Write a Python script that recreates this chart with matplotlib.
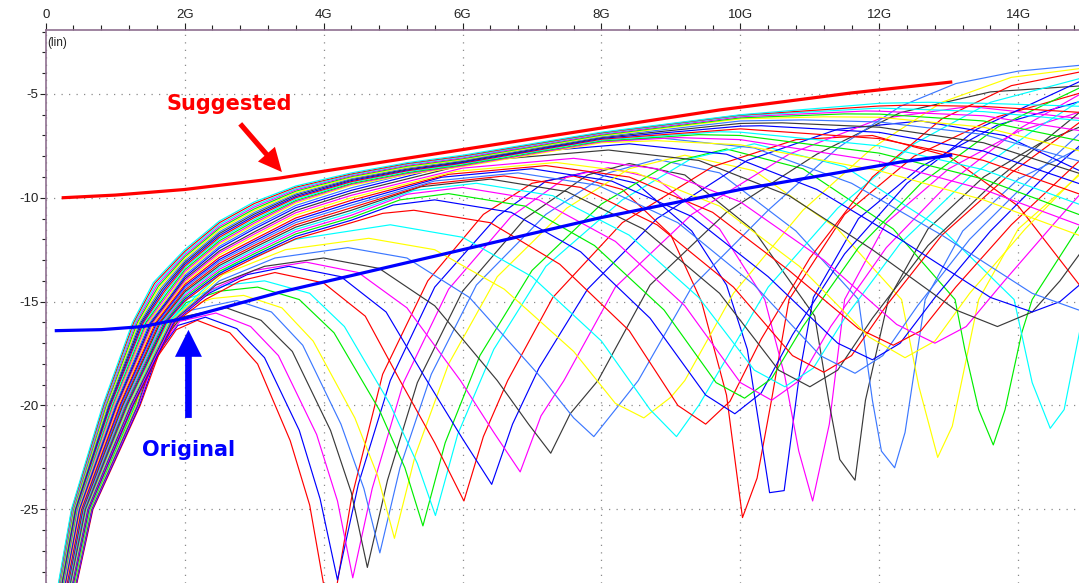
import matplotlib
matplotlib.use("Agg")
import matplotlib.pyplot as plt
from matplotlib.patches import FancyArrowPatch, ArrowStyle
from matplotlib.ticker import MultipleLocator

plt.rcParams["axes.unicode_minus"] = False

RED = "#ff0000"
BLUE = "#0000ff"
MAGENTA = "#ff00ff"
BLACK = "#3a3a3a"
LIGHTBLUE = "#3c78ff"
YELLOW = "#ffff00"
GREEN = "#00ee00"
CYAN = "#00ffff"

# sweep members, (GHz, dB) points; first null below 6 GHz, second null in range
early_curves = [
    [(0.42, -29), (0.68, -25), (1.36, -20), (1.62, -17.6), (1.88, -16.35), (2.18, -15.9),
     (2.65, -16.5), (3.05, -18.0), (3.52, -21.7), (3.8, -24.8), (4.1, -30.5),
     (4.4, -24.5), (4.85, -18.5), (5.5, -14.0), (6.3, -10.8), (7.0, -9.3), (7.6, -8.95),
     (8.3, -9.6), (9.0, -11.8), (9.44, -15.0), (9.8, -19.5), (10.03, -25.4),
     (10.24, -23.5), (10.45, -19.7), (10.7, -14.9), (11.5, -10.8), (12.5, -8.0),
     (13.7, -6.1), (14.95, -4.9)],
    [(0.414, -29), (0.673, -25), (1.348, -20), (1.61, -17.5), (1.9, -16.15), (2.3, -15.75),
     (2.75, -16.3), (3.15, -17.7), (3.65, -21.2), (3.95, -24.5), (4.2, -28.4),
     (4.5, -23.8), (4.96, -18.8), (5.6, -14.3), (6.5, -10.9), (7.2, -9.2), (7.8, -8.75),
     (8.5, -9.3), (9.3, -11.6), (9.8, -14.2), (10.1, -17.3), (10.42, -24.2), (10.63, -24.1),
     (10.85, -18.5), (11.05, -14.8), (11.7, -11.0), (12.6, -8.5), (13.7, -6.5), (14.95, -5.3)],
    [(0.408, -29), (0.665, -25), (1.335, -20), (1.6, -17.4), (1.93, -15.95), (2.45, -15.55),
     (2.95, -16.2), (3.35, -17.6), (3.9, -21.4), (4.2, -24.6), (4.42, -28.3),
     (4.7, -24.0), (5.15, -18.9), (5.8, -14.4), (6.7, -10.9), (7.5, -9.0), (8.1, -8.55),
     (8.8, -9.1), (9.7, -11.5), (10.35, -14.9), (10.64, -18.6), (10.84, -22.2), (11.04, -24.6),
     (11.28, -20.9), (11.5, -14.9), (12.1, -11.2), (13.0, -8.6), (14.0, -6.8), (14.95, -5.8)],
    [(0.402, -29), (0.658, -25), (1.322, -20), (1.59, -17.3), (1.95, -15.75), (2.6, -15.3),
     (3.1, -15.9), (3.55, -17.4), (4.1, -21.2), (4.4, -24.2), (4.63, -27.8),
     (4.92, -23.6), (5.35, -18.9), (6.0, -14.5), (6.9, -11.0), (7.8, -8.9), (8.4, -8.35),
     (9.2, -8.9), (10.2, -11.6), (11.07, -15.7), (11.27, -19.75), (11.43, -22.6), (11.65, -23.6),
     (11.8, -19.75), (12.13, -14.9), (12.7, -11.5), (13.5, -9.0), (14.3, -7.4), (14.95, -6.5)],
    [(0.396, -29), (0.651, -25), (1.31, -20), (1.58, -17.2), (1.97, -15.5), (2.75, -14.95),
     (3.25, -15.5), (3.7, -17.1), (4.25, -20.9), (4.58, -24.0), (4.81, -27.1),
     (5.1, -23.0), (5.55, -18.5), (6.2, -14.2), (7.2, -10.8), (8.1, -8.8), (8.8, -8.15),
     (9.7, -8.8), (10.8, -11.6), (11.7, -14.9), (11.9, -19.75), (12.03, -22.2), (12.22, -23.0),
     (12.37, -21.3), (12.51, -18.2), (12.66, -14.9), (13.2, -11.6), (14.0, -9.1), (14.95, -7.5)],
    [(0.39, -29), (0.644, -25), (1.297, -20), (1.57, -17.1), (2.0, -15.3), (2.4, -14.85),
     (2.85, -14.7), (3.4, -15.3), (3.85, -16.9), (4.45, -20.6), (4.78, -23.4), (5.02, -26.4),
     (5.32, -22.4), (5.8, -18.0), (6.5, -13.8), (7.5, -10.5), (8.4, -8.6), (9.2, -7.95),
     (10.2, -8.7), (11.4, -11.5), (12.32, -14.9), (12.57, -19.1), (12.84, -22.5),
     (13.05, -21.0), (13.2, -18.6), (13.43, -14.9), (14.0, -11.5), (14.95, -8.7)],
    [(0.384, -29), (0.637, -25), (1.284, -20), (1.56, -17.0), (2.02, -15.05), (2.5, -14.5),
     (3.05, -14.3), (3.65, -14.9), (4.15, -16.5), (4.8, -20.2), (5.17, -23.0), (5.43, -25.8),
     (5.75, -21.8), (6.25, -17.6), (7.0, -13.5), (8.0, -10.3), (9.0, -8.3), (9.8, -7.65),
     (10.9, -8.6), (12.2, -11.5), (13.09, -14.9), (13.23, -17.3), (13.43, -20.2), (13.64, -21.9),
     (13.81, -20.2), (14.05, -16.5), (14.2, -14.9), (14.95, -11.0)],
    [(0.378, -29), (0.63, -25), (1.272, -20), (1.55, -16.9), (2.05, -14.85), (2.6, -14.2),
     (3.15, -14.0), (3.8, -14.6), (4.3, -16.2), (4.95, -19.9), (5.35, -22.8), (5.61, -25.3),
     (5.93, -21.4), (6.45, -17.3), (7.2, -13.3), (8.3, -10.1), (9.3, -8.1), (10.2, -7.4),
     (11.5, -8.5), (12.9, -11.5), (13.94, -14.9), (14.2, -18.9), (14.46, -21.1),
     (14.66, -20.2), (14.88, -16.5)],
]
early_colors = [RED, BLUE, MAGENTA, BLACK, LIGHTBLUE, YELLOW, GREEN, CYAN]

# one deep null between 6 and 9 GHz
mid_curves = [
    [(0.372, -29), (0.622, -25), (1.26, -20), (1.86, -16), (2.3, -14.9), (2.8, -14.0), (3.3, -13.6),
     (4.0, -14.1), (4.6, -15.7), (5.1, -18.8), (5.6, -21.8), (6.02, -24.6),
     (6.3, -21.5), (6.65, -18.8), (7.3, -14.8), (8.3, -11.2), (9.6, -8.5), (10.8, -7.2),
     (11.9, -7.0), (13.0, -8.0), (14.0, -10.4), (14.95, -14.5)],
    [(0.366, -29), (0.615, -25), (1.247, -20), (1.843, -16), (2.35, -14.6), (2.9, -13.7), (3.5, -13.3),
     (4.25, -13.8), (4.9, -15.5), (5.45, -18.6), (6.0, -21.6), (6.42, -23.8),
     (6.72, -20.9), (7.1, -18.2), (7.8, -14.4), (8.8, -11.0), (10.1, -8.2), (11.4, -6.7),
     (12.6, -6.3), (13.8, -7.0), (14.95, -8.8)],
    [(0.36, -29), (0.608, -25), (1.234, -20), (1.825, -16), (2.4, -14.4), (3.0, -13.5), (3.75, -13.1),
     (4.5, -13.6), (5.2, -15.3), (5.97, -18.8), (6.45, -21.3), (6.83, -23.2),
     (7.13, -20.5), (7.46, -18.8), (8.2, -14.3), (9.3, -10.8), (10.7, -7.9), (12.0, -6.2),
     (13.3, -5.6), (14.95, -6.2)],
    [(0.353, -29), (0.601, -25), (1.222, -20), (1.808, -16), (2.45, -14.2), (3.15, -13.3), (4.0, -12.9),
     (4.8, -13.4), (5.6, -15.2), (6.5, -18.8), (6.95, -20.9), (7.27, -22.3),
     (7.55, -20.4), (7.95, -18.8), (8.7, -14.2), (9.8, -10.7), (11.1, -7.9), (12.3, -5.9),
     (13.6, -4.9), (14.95, -4.6)],
    [(0.347, -29), (0.594, -25), (1.209, -20), (1.791, -16), (2.5, -14.0), (3.3, -12.9), (4.35, -12.4),
     (5.2, -12.9), (6.1, -14.8), (7.17, -18.8), (7.6, -20.6), (7.89, -21.5),
     (8.2, -20.2), (8.53, -18.8), (9.3, -14.3), (10.4, -10.6), (11.4, -7.6), (12.3, -5.6),
     (13.1, -4.5), (14.0, -3.9), (14.95, -3.6)],
    [(0.341, -29), (0.586, -25), (1.197, -20), (1.773, -16), (2.55, -13.7), (3.45, -12.5), (4.65, -11.95),
     (5.6, -12.5), (6.6, -14.4), (7.6, -17.4), (8.2, -19.9), (8.61, -20.6),
     (9.0, -19.6), (9.2, -18.8), (9.9, -14.6), (10.9, -10.6), (11.9, -7.6), (12.9, -5.4),
     (13.9, -4.2), (14.95, -3.75)],
    [(0.335, -29), (0.579, -25), (1.184, -20), (1.756, -16), (2.6, -13.4), (3.6, -12.0), (4.96, -11.3),
     (6.0, -11.9), (7.0, -13.8), (8.0, -16.9), (8.7, -20.2), (9.08, -21.5),
     (9.4, -20.0), (9.7, -18.3), (10.4, -14.3), (11.4, -10.5), (12.5, -7.4), (13.6, -5.4),
     (14.95, -4.2)],
]
mid_colors = [RED, BLUE, MAGENTA, BLACK, LIGHTBLUE, YELLOW, CYAN]

# shallow null between 9.5 and 15 GHz
late_curves = [
    [(0.329, -29), (0.572, -25), (1.172, -20), (1.738, -16), (2.0, -14.98), (2.5, -13.73), (3.0, -12.9),
     (3.6, -11.97), (4.4, -11.2), (4.85, -10.75), (5.3, -10.6), (6.4, -11.2), (7.4, -13.2), (8.4, -16.4),
     (9.1, -20.0), (9.5, -20.9),
     (9.85, -19.8), (10.3, -16.8), (11.0, -12.9), (11.9, -9.0), (12.9, -6.2), (13.9, -4.6), (14.95, -3.9)],
    [(0.323, -29), (0.565, -25), (1.159, -20), (1.721, -16), (2.0, -14.89), (2.5, -13.64), (3.0, -12.8),
     (3.6, -11.86), (4.4, -11.08), (5.0, -10.35), (5.6, -10.1), (6.7, -10.7), (7.7, -12.6), (8.7, -15.8),
     (9.5, -19.5), (9.92, -20.4),
     (10.3, -19.4), (10.75, -16.6), (11.5, -12.7), (12.4, -9.3), (13.4, -6.7), (14.95, -4.3)],
    [(0.317, -29), (0.558, -25), (1.147, -20), (1.703, -16), (2.0, -14.8), (2.5, -13.54), (3.0, -12.7),
     (3.6, -11.74), (4.4, -10.96), (5.1, -10.1), (5.8, -9.8), (6.9, -10.4), (7.9, -12.3), (8.9, -15.4),
     (9.65, -18.9), (10.06, -19.65),
     (10.45, -18.7), (10.9, -16.2), (11.7, -12.4), (12.6, -9.3), (13.7, -6.6), (14.95, -4.6)],
    [(0.311, -29), (0.55, -25), (1.134, -20), (1.686, -16), (2.0, -14.71), (2.5, -13.44), (3.0, -12.6),
     (3.6, -11.63), (4.4, -10.84), (5.2, -9.83), (6.0, -9.5), (7.1, -10.1), (8.2, -12.1), (9.2, -15.2),
     (10.0, -18.9), (10.45, -19.75),
     (10.85, -18.8), (11.3, -16.2), (12.1, -12.4), (13.0, -9.3), (14.0, -6.7), (14.95, -4.9)],
    [(0.305, -29), (0.543, -25), (1.121, -20), (1.669, -16), (2.0, -14.62), (2.5, -13.35), (3.0, -12.5),
     (3.6, -11.52), (4.4, -10.72), (5.3, -9.65), (6.2, -9.3), (7.3, -9.9), (8.4, -11.8), (9.4, -14.8),
     (10.2, -18.3), (10.64, -19.1),
     (11.05, -18.2), (11.5, -15.8), (12.3, -12.2), (13.3, -9.0), (14.2, -6.8), (14.95, -5.2)],
    [(0.299, -29), (0.536, -25), (1.109, -20), (1.651, -16), (2.0, -14.54), (2.5, -13.26), (3.0, -12.4),
     (3.6, -11.41), (4.4, -10.6), (5.4, -9.47), (6.4, -9.1), (7.5, -9.7), (8.6, -11.5), (9.7, -14.6),
     (10.55, -18.3), (11.0, -19.1),
     (11.4, -18.3), (11.9, -15.8), (12.7, -12.3), (13.7, -9.1), (14.95, -5.7)],
    [(0.293, -29), (0.529, -25), (1.096, -20), (1.634, -16), (2.0, -14.45), (2.5, -13.16), (3.0, -12.3),
     (3.6, -11.3), (4.4, -10.48), (5.5, -9.34), (6.6, -8.95), (7.7, -9.5), (8.8, -11.3), (9.9, -14.3),
     (10.75, -17.6), (11.2, -18.4),
     (11.6, -17.6), (12.1, -15.2), (12.9, -11.8), (13.9, -8.8), (14.95, -6.2)],
    [(0.287, -29), (0.521, -25), (1.084, -20), (1.616, -16), (2.0, -14.36), (2.5, -13.06), (3.0, -12.2),
     (3.6, -11.19), (4.4, -10.36), (5.6, -9.19), (6.8, -8.8), (7.95, -9.4), (9.1, -11.2), (10.2, -14.2),
     (11.15, -17.6), (11.65, -18.45),
     (12.05, -17.6), (12.55, -15.2), (13.3, -12.0), (14.2, -9.0), (14.95, -6.7)],
    [(0.281, -29), (0.514, -25), (1.071, -20), (1.599, -16), (2.0, -14.27), (2.5, -12.97), (3.0, -12.1),
     (3.6, -11.08), (4.4, -10.24), (5.7, -9.01), (7.0, -8.6), (8.15, -9.2), (9.3, -10.9), (10.4, -13.8),
     (11.4, -17.0), (11.9, -17.8),
     (12.3, -17.0), (12.8, -14.8), (13.6, -11.6), (14.4, -8.9), (14.95, -7.3)],
    [(0.275, -29), (0.507, -25), (1.059, -20), (1.581, -16), (2.0, -14.18), (2.5, -12.87), (3.0, -12.0),
     (3.6, -10.97), (4.4, -10.12), (5.8, -8.87), (7.2, -8.45), (8.4, -9.0), (9.6, -10.7), (10.7, -13.5),
     (11.7, -16.3), (12.2, -17.1),
     (12.6, -16.4), (13.1, -14.3), (13.9, -11.3), (14.95, -8.0)],
    [(0.269, -29), (0.5, -25), (1.046, -20), (1.564, -16), (2.0, -14.09), (2.5, -12.75), (3.0, -11.85),
     (3.6, -10.83), (4.4, -10.0), (5.9, -8.73), (7.35, -8.3), (8.5, -8.8), (9.7, -10.4), (10.85, -13.3),
     (11.85, -16.7), (12.37, -17.7),
     (12.8, -16.9), (13.3, -14.6), (14.1, -11.5), (14.95, -8.6)],
    [(0.263, -29), (0.492, -25), (1.033, -20), (1.546, -16), (2.0, -14.01), (2.5, -12.65), (3.0, -11.75),
     (3.6, -10.72), (4.4, -9.88), (6.0, -8.57), (7.6, -8.1), (8.8, -8.6), (10.0, -10.2), (11.2, -13.0),
     (12.25, -16.1), (12.8, -17.0),
     (13.25, -16.2), (13.8, -14.0), (14.5, -11.3), (14.95, -9.6)],
    [(0.257, -29), (0.485, -25), (1.021, -20), (1.529, -16), (2.0, -13.92), (2.5, -12.56), (3.0, -11.65),
     (3.6, -10.61), (4.4, -9.76), (6.25, -8.22), (8.1, -7.7), (9.4, -8.2), (10.7, -9.9), (11.9, -12.5),
     (13.1, -15.4), (13.7, -16.2),
     (14.2, -15.5), (14.6, -14.0), (14.95, -12.4)],
    [(0.251, -29), (0.478, -25), (1.008, -20), (1.512, -16), (2.0, -13.83), (2.5, -12.43), (3.0, -11.5),
     (3.6, -10.48), (4.4, -9.64), (6.4, -7.96), (8.4, -7.4), (9.8, -7.9), (11.1, -9.6), (12.3, -12.0),
     (13.6, -14.8), (14.2, -15.5),
     (14.6, -15.0), (14.95, -14.0)],
    [(0.245, -29), (0.471, -25), (0.996, -20), (1.494, -16), (2.0, -13.74), (2.5, -12.34), (3.0, -11.4),
     (3.6, -10.37), (4.4, -9.52), (6.6, -7.7), (8.8, -7.1), (10.2, -7.6), (11.6, -9.3), (12.9, -11.8),
     (14.2, -14.6), (14.95, -15.5)],
]
late_colors = [RED, BLUE, GREEN, MAGENTA, CYAN, BLACK, RED, LIGHTBLUE, BLUE, RED,
               YELLOW, MAGENTA, BLACK, BLUE, LIGHTBLUE]

# null above 15 GHz: top of the bundle
high_curves = [
    [(0.239, -29), (0.464, -25), (0.983, -20), (1.477, -16), (1.777, -14.71), (2.0, -13.65), (2.5, -12.24),
     (3.0, -11.3), (3.6, -10.26), (4.4, -9.4), (5.2, -8.88), (6.0, -8.5), (8.0, -7.35), (8.8, -7.25),
     (10.0, -7.45), (12.0, -8.7), (13.5, -10.1), (14.95, -11.9)],
    [(0.233, -29), (0.456, -25), (0.971, -20), (1.459, -16), (1.759, -14.66), (2.0, -13.56), (2.5, -12.16),
     (3.0, -11.22), (3.6, -10.19), (4.4, -9.35), (5.2, -8.83), (6.0, -8.46), (8.0, -7.3), (9.1, -7.1),
     (10.0, -7.2), (12.0, -8.25), (13.5, -9.6), (14.95, -11.4)],
    [(0.227, -29), (0.449, -25), (0.958, -20), (1.442, -16), (1.742, -14.61), (2.0, -13.47), (2.5, -12.07),
     (3.0, -11.13), (3.6, -10.13), (4.4, -9.31), (5.2, -8.79), (6.0, -8.42), (8.0, -7.26), (9.4, -6.96),
     (10.0, -7.0), (12.0, -7.85), (13.5, -9.1), (14.95, -10.9)],
    [(0.221, -29), (0.442, -25), (0.946, -20), (1.425, -16), (1.725, -14.56), (2.0, -13.38), (2.5, -11.98),
     (3.0, -11.05), (3.6, -10.07), (4.4, -9.26), (5.2, -8.74), (6.0, -8.37), (8.0, -7.22), (9.7, -6.82),
     (10.0, -6.84), (12.0, -7.5), (13.5, -8.65), (14.95, -10.4)],
    [(0.214, -29), (0.435, -25), (0.933, -20), (1.407, -16), (1.707, -14.52), (2.0, -13.3), (2.5, -11.9),
     (3.0, -10.96), (3.6, -10.0), (4.4, -9.22), (5.2, -8.7), (6.0, -8.33), (8.0, -7.18), (10.0, -6.68),
     (12.0, -7.15), (13.5, -8.2), (14.95, -9.9)],
    [(0.208, -29), (0.428, -25), (0.92, -20), (1.39, -16), (1.69, -14.47), (2.0, -13.21), (2.5, -11.81),
     (3.0, -10.88), (3.6, -9.94), (4.4, -9.17), (5.2, -8.66), (6.0, -8.29), (8.0, -7.14), (10.0, -6.55),
     (10.3, -6.53), (12.0, -6.85), (13.5, -7.75), (14.95, -9.4)],
    [(0.202, -29), (0.42, -25), (0.908, -20), (1.372, -16), (1.672, -14.42), (2.0, -13.12), (2.5, -11.72),
     (3.0, -10.79), (3.6, -9.87), (4.4, -9.12), (5.2, -8.62), (6.0, -8.25), (8.0, -7.1), (10.0, -6.42),
     (10.6, -6.39), (12.0, -6.6), (13.5, -7.35), (14.95, -8.9)],
    [(0.196, -29), (0.413, -25), (0.896, -20), (1.355, -16), (1.655, -14.37), (2.0, -13.03), (2.5, -11.64),
     (3.0, -10.71), (3.6, -9.81), (4.4, -9.08), (5.2, -8.57), (6.0, -8.2), (8.0, -7.06), (10.0, -6.3),
     (10.9, -6.25), (12.0, -6.35), (13.5, -6.95), (14.95, -8.3)],
    [(0.19, -29), (0.406, -25), (0.883, -20), (1.337, -16), (1.637, -14.32), (2.0, -12.94), (2.5, -11.55),
     (3.0, -10.62), (3.6, -9.75), (4.4, -9.03), (5.2, -8.53), (6.0, -8.16), (8.0, -7.02), (10.0, -6.2),
     (11.2, -6.1), (12.0, -6.12), (13.5, -6.6), (14.95, -7.8)],
    [(0.184, -29), (0.399, -25), (0.87, -20), (1.32, -16), (1.62, -14.27), (2.0, -12.85), (2.5, -11.46),
     (3.0, -10.54), (3.6, -9.68), (4.4, -8.98), (5.2, -8.48), (6.0, -8.12), (8.0, -6.98), (10.0, -6.15),
     (11.5, -5.96), (12.0, -5.97), (13.5, -6.3), (14.95, -7.3)],
    [(0.178, -29), (0.392, -25), (0.858, -20), (1.302, -16), (1.602, -14.22), (2.0, -12.77), (2.5, -11.38),
     (3.0, -10.45), (3.6, -9.62), (4.4, -8.94), (5.2, -8.44), (6.0, -8.08), (8.0, -6.94), (10.0, -6.1),
     (11.8, -5.82), (12.0, -5.83), (13.5, -6.05), (14.95, -6.8)],
    [(0.172, -29), (0.385, -25), (0.845, -20), (1.285, -16), (1.585, -14.17), (2.0, -12.68), (2.5, -11.29),
     (3.0, -10.37), (3.6, -9.56), (4.4, -8.89), (5.2, -8.39), (6.0, -8.03), (8.0, -6.9), (10.0, -6.05),
     (12.0, -5.68), (13.5, -5.85), (14.95, -6.3)],
    [(0.166, -29), (0.377, -25), (0.833, -20), (1.267, -16), (1.567, -14.12), (2.0, -12.59), (2.5, -11.2),
     (3.0, -10.28), (3.6, -9.49), (4.4, -8.85), (5.2, -8.35), (6.0, -7.99), (8.0, -6.87), (10.0, -6.02),
     (12.0, -5.58), (12.4, -5.54), (13.5, -5.6), (14.95, -5.9)],
    [(0.16, -29), (0.37, -25), (0.82, -20), (1.25, -16), (1.55, -14.08), (2.0, -12.5), (2.5, -11.12),
     (3.0, -10.2), (3.6, -9.43), (4.4, -8.8), (5.2, -8.31), (6.0, -7.95), (8.0, -6.84), (10.0, -6.0),
     (12.0, -5.45), (12.7, -5.4), (13.5, -5.45), (14.95, -5.6)],
]
high_colors = [YELLOW, MAGENTA, GREEN, CYAN, RED, BLUE, BLACK, LIGHTBLUE, YELLOW, GREEN,
               MAGENTA, CYAN, RED, CYAN]

# limit lines
suggested_f = [0.23, 1.0, 2.0, 3.37, 4.0, 6.0, 8.0, 9.7, 11.6, 13.05]
suggested_db = [-10.0, -9.87, -9.6, -9.05, -8.72, -7.68, -6.64, -5.77, -4.95, -4.42]
original_f = [0.13, 0.8, 1.4, 2.0, 3.37, 6.0, 7.97, 10.0, 12.3, 13.05]
original_db = [-16.4, -16.35, -16.2, -15.8, -14.55, -12.5, -10.97, -9.6, -8.28, -7.94]

x_ticks = [0, 2, 4, 6, 8, 10, 12, 14]
x_labels = ["0", "2G", "4G", "6G", "8G", "10G", "12G", "14G"]
y_ticks = [-25, -20, -15, -10, -5]

W, H = 1079, 583
fig = plt.figure(figsize=(W / 100, H / 100), dpi=100)
left = 45.7 / W
ax = fig.add_axes([left, 0, 1 - left, (H - 30) / H])

groups = [(early_curves, early_colors), (mid_curves, mid_colors),
          (late_curves, late_colors), (high_curves, high_colors)]
for curves, colors in groups:
    for pts, c in zip(curves, colors):
        f, db = zip(*pts)
        ax.plot(f, db, color=c, lw=0.85, zorder=2)

ax.plot(suggested_f, suggested_db, color=RED, lw=2.3, zorder=4, solid_capstyle="butt")
ax.plot(original_f, original_db, color=BLUE, lw=2.3, zorder=4, solid_capstyle="butt")

ax.set_xlim(0, 14.874)
ax.set_ylim(-28.55, -1.92)

ax.xaxis.tick_top()
ax.set_xticks(x_ticks, labels=x_labels)
ax.set_yticks(y_ticks, labels=[str(v) for v in y_ticks])
ax.xaxis.set_minor_locator(MultipleLocator(0.4))
ax.yaxis.set_minor_locator(MultipleLocator(1))
ax.tick_params(axis="x", which="major", direction="out", length=5.3, width=0.8,
               color="#222222", pad=1, labelsize=9.5, labelcolor="#222222")
ax.tick_params(axis="x", which="minor", direction="out", length=3.5, width=0.8, color="#222222")
ax.tick_params(axis="y", which="major", direction="out", length=4.6, width=0.8,
               color="#222222", pad=0.5, labelsize=9.5, labelcolor="#222222")
ax.tick_params(axis="y", which="minor", direction="out", length=2.8, width=0.8, color="#222222")
for lab in ax.get_xticklabels() + ax.get_yticklabels():
    lab.set_fontfamily("Liberation Sans")

for side in ("bottom", "right"):
    ax.spines[side].set_visible(False)
for side in ("top", "left"):
    ax.spines[side].set_color("#8f7090")
    ax.spines[side].set_linewidth(1.2)

ax.grid(True, which="major", color="#8a8a8a", linestyle=(0, (1, 5)), lw=0.9)
ax.set_axisbelow(True)

fig.text(47 / W, 1 - 43 / H, "(lin)", ha="left", va="center", fontsize=8.5,
         family="Liberation Sans", color="#222222")

ax.text(2.642, -5.77, "Suggested", color=RED, fontsize=15, fontweight="bold",
        family="DejaVu Sans", ha="center", va="baseline", zorder=6)
ax.text(2.058, -22.43, "Original", color=BLUE, fontsize=15, fontweight="bold",
        family="DejaVu Sans", ha="center", va="baseline", zorder=6)

red_arrow = FancyArrowPatch((2.80, -6.44), (3.40, -8.76),
                            arrowstyle=ArrowStyle.Simple(head_length=1.0, head_width=0.95, tail_width=0.22),
                            mutation_scale=17, color=RED, lw=0, shrinkA=0, shrinkB=0, zorder=6)
blue_arrow = FancyArrowPatch((2.055, -20.6), (2.055, -16.36),
                             arrowstyle=ArrowStyle.Simple(head_length=0.97, head_width=0.97, tail_width=0.24),
                             mutation_scale=20, color=BLUE, lw=0, shrinkA=0, shrinkB=0, zorder=6)
ax.add_patch(red_arrow)
ax.add_patch(blue_arrow)

fig.savefig("out.png", dpi=100)
